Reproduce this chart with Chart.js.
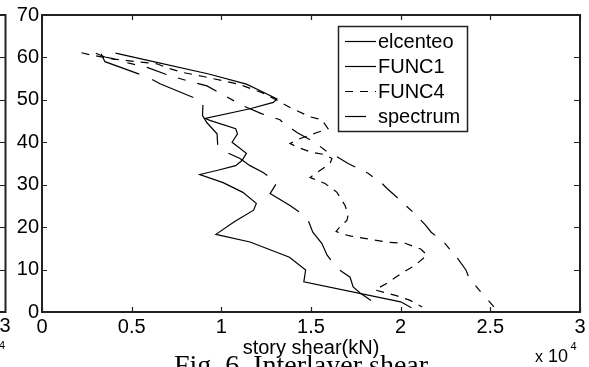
<!DOCTYPE html>
<html>
<head>
<meta charset="utf-8">
<script src="https://cdn.jsdelivr.net/npm/chart.js@4.4.0/dist/chart.umd.min.js"></script>
<style>
  html, body { margin: 0; padding: 0; background: #fff; }
  #wrap { width: 589px; height: 367px; }
</style>
</head>
<body>
<div id="wrap"><canvas id="myChart" width="589" height="367"></canvas></div>
<script>
// interlayer shear (shear in kN, story level)
const elcentroStory = [61, 59.3, 56.1, 53.7, 52.1, 50.2, 49.4, 47.9, 45.6, 45.1, 43.2, 42.0, 40.0, 37.4, 35.7, 34.5, 33.4, 32.4, 30.5, 28.2, 25.6, 24.0, 21.2, 18.3, 16.5, 12.9, 9.9, 7.1, 2.4, 1.0];
const elcentroShear = [4100, 5900, 9300, 11400, 12200, 13100, 12900, 11600, 9100, 9400, 10800, 10900, 10600, 11400, 11150, 10800, 9800, 8800, 10100, 11200, 11950, 11800, 10700, 9700, 11600, 13800, 14700, 14600, 20000, 20600];

const func1Story = [60.8, 59.0, 55.4, 53.8, 49.6, 46.3, 44.6, 42.0, 39.2, 37.8, 36.2, 34.5, 32.9, 30.5, 27.9, 25.1, 22.3, 18.8, 16.2, 13.4, 10.3, 8.2, 5.9, 4.5, 1.2];
const func1Shear = [3300, 3510, 5860, 6580, 8980, 8950, 9200, 9760, 9800, 10200, 11040, 11600, 12330, 13100, 12720, 13830, 14780, 15100, 15600, 15900, 16450, 17180, 17350, 17740, 18850];

const func4Story = [61.1, 60.6, 59.6, 58.5, 57.5, 56.5, 55.5, 54.3, 53.6, 51.7, 49.8, 48.2, 46.0, 45.3, 43.2, 42.3, 40.9, 39.7, 38.8, 37.6, 37.1, 36.2, 35.0, 32.9, 31.7, 30.3, 28.2, 25.1, 22.8, 21.6, 20.0, 19.0, 18.3, 17.9, 16.4, 16.2, 14.8, 13.4, 11.0, 9.2, 6.8, 5.2, 3.8, 2.8, 1.2];
const func4Shear = [2200, 2700, 4000, 6400, 7000, 7800, 9000, 10300, 11040, 12270, 13160, 13830, 14950, 15600, 15950, 15340, 14400, 13830, 14280, 15060, 15780, 16170, 16060, 15340, 14950, 15780, 16450, 16900, 17070, 17000, 16600, 16400, 16800, 17230, 19350, 20250, 21140, 21470, 20800, 20080, 19240, 18570, 19800, 20500, 21200];

const spectrumStory = [61, 60.1, 59.7, 58.7, 57.6, 56.1, 55.7, 54.5, 53.3, 48.6, 46.7, 45.3, 44.6, 42.3, 39.9, 37.6, 36.9, 35.0, 32.7, 30.3, 29.1, 26.8, 23.3, 20.4, 18.8, 16.5, 12.7, 9.9, 8.2, 5.2, 1.2];
const spectrumShear = [3000, 3510, 3960, 4800, 5900, 6860, 7140, 8100, 9200, 11200, 12270, 13270, 13440, 14220, 15230, 15950, 16340, 17070, 18180, 18960, 19240, 19850, 20750, 21400, 21700, 22400, 23160, 23640, 23800, 24370, 25200];

const xTicks = [0, 5000, 10000, 15000, 20000, 25000, 30000];
const yTicks = [0, 10, 20, 30, 40, 50, 60, 70];

const font = 'Liberation Sans, Arial, sans-serif';

function pairs(xs, ys) {
  return xs.map((x, i) => ({x: x, y: ys[i]}));
}

// frame with inward ticks, legend box, exponent, caption and the edge of the next panel
const decor = {
  id: 'decor',
  afterDraw(chart) {
    const ctx = chart.ctx;
    const a = chart.chartArea;
    const xs = chart.scales.x, ys = chart.scales.y;
    ctx.save();
    ctx.strokeStyle = '#222';
    ctx.lineWidth = 2;
    ctx.strokeRect(a.left, a.top, a.right - a.left, a.bottom - a.top);
    ctx.lineWidth = 1.2;
    ctx.beginPath();
    xs.ticks.forEach(t => {
      const px = Math.round(xs.getPixelForValue(t.value)) + 0.5;
      ctx.moveTo(px, a.bottom); ctx.lineTo(px, a.bottom - 5);
      ctx.moveTo(px, a.top); ctx.lineTo(px, a.top + 5);
    });
    ys.ticks.forEach(t => {
      const py = Math.round(ys.getPixelForValue(t.value)) + 0.5;
      ctx.moveTo(a.left, py); ctx.lineTo(a.left + 5, py);
      ctx.moveTo(a.right, py); ctx.lineTo(a.right - 6, py);
      // right edge of the neighbouring panel
      ctx.moveTo(0, py); ctx.lineTo(5.5, py);
    });
    ctx.stroke();
    ctx.lineWidth = 2;
    ctx.beginPath();
    ctx.moveTo(0, a.top); ctx.lineTo(5.5, a.top); ctx.lineTo(5.5, a.bottom); ctx.lineTo(0, a.bottom);
    ctx.stroke();

    // legend
    const lx = 338.5, ly = 26.5, lw = 129, lh = 105;
    ctx.fillStyle = '#fff';
    ctx.fillRect(lx, ly, lw, lh);
    ctx.lineWidth = 1.5;
    ctx.strokeStyle = '#222';
    ctx.strokeRect(lx, ly, lw, lh);
    ctx.font = '20px ' + font;
    ctx.textBaseline = 'middle';
    ctx.textAlign = 'left';
    chart.data.datasets.forEach((ds, i) => {
      const y = 41.5 + i * 25;
      ctx.strokeStyle = '#000';
      ctx.lineWidth = 1.2;
      ctx.setLineDash(ds.borderDash || []);
      ctx.beginPath();
      ctx.moveTo(345, y); ctx.lineTo(376, y);
      ctx.stroke();
      ctx.setLineDash([]);
      ctx.fillStyle = '#000';
      ctx.fillText(ds.label, 378, y + 1);
    });

    // x 10^4
    ctx.textBaseline = 'alphabetic';
    ctx.font = '16px ' + font;
    ctx.fillText('x', 535, 362);
    ctx.font = '18px ' + font;
    ctx.fillText('10', 548, 362);
    ctx.font = '11px ' + font;
    ctx.fillText('4', 570.5, 350);
    // leftovers of the neighbouring panel
    ctx.textAlign = 'center';
    ctx.font = '20px ' + font;
    ctx.fillText('3', 5, 332);
    ctx.font = '11px ' + font;
    ctx.fillText('4', 2, 349);

    // caption
    ctx.font = '28px Liberation Serif, Times New Roman, serif';
    ctx.fillText('Fig. 6. Interlayer shear', 301, 374);
    ctx.restore();
  }
};

new Chart(document.getElementById('myChart'), {
  type: 'scatter',
  data: {
    datasets: [
      {label: 'elcenteo', data: pairs(elcentroShear, elcentroStory), borderDash: []},
      {label: 'FUNC1', data: pairs(func1Shear, func1Story), borderDash: [45, 14]},
      {label: 'FUNC4', data: pairs(func4Shear, func4Story), borderDash: [8, 7]},
      {label: 'spectrum', data: pairs(spectrumShear, spectrumStory), borderDash: [21, 12, 8, 12]}
    ].map(d => Object.assign(d, {
      showLine: true, borderColor: '#000', borderWidth: 1.2,
      pointRadius: 0, tension: 0, fill: false
    }))
  },
  options: {
    responsive: false,
    animation: false,
    devicePixelRatio: 1,
    layout: {padding: {top: 14, right: 9, left: 0, bottom: 0}},
    plugins: {legend: {display: false}, tooltip: {enabled: false}},
    scales: {
      x: {
        type: 'linear', min: 0, max: 30000,
        afterBuildTicks: s => { s.ticks = xTicks.map(v => ({value: v})); },
        afterFit: s => { s.height = 55; },
        grid: {display: false, drawTicks: false, tickLength: 0},
        border: {display: false},
        ticks: {
          color: '#000', padding: 3, maxRotation: 0, autoSkip: false,
          font: {family: font, size: 20},
          callback: v => String(v / 10000)
        },
        title: {
          display: true, text: 'story shear(kN)', color: '#000',
          font: {family: font, size: 20}, padding: {top: 0, bottom: 7}
        }
      },
      y: {
        type: 'linear', min: 0, max: 70,
        afterBuildTicks: s => { s.ticks = yTicks.map(v => ({value: v})); },
        afterFit: s => { s.width = 42; },
        grid: {display: false, drawTicks: false, tickLength: 0},
        border: {display: false},
        ticks: {color: '#000', padding: 3, font: {family: font, size: 20}}
      }
    }
  },
  plugins: [decor]
});
</script>
</body>
</html>
